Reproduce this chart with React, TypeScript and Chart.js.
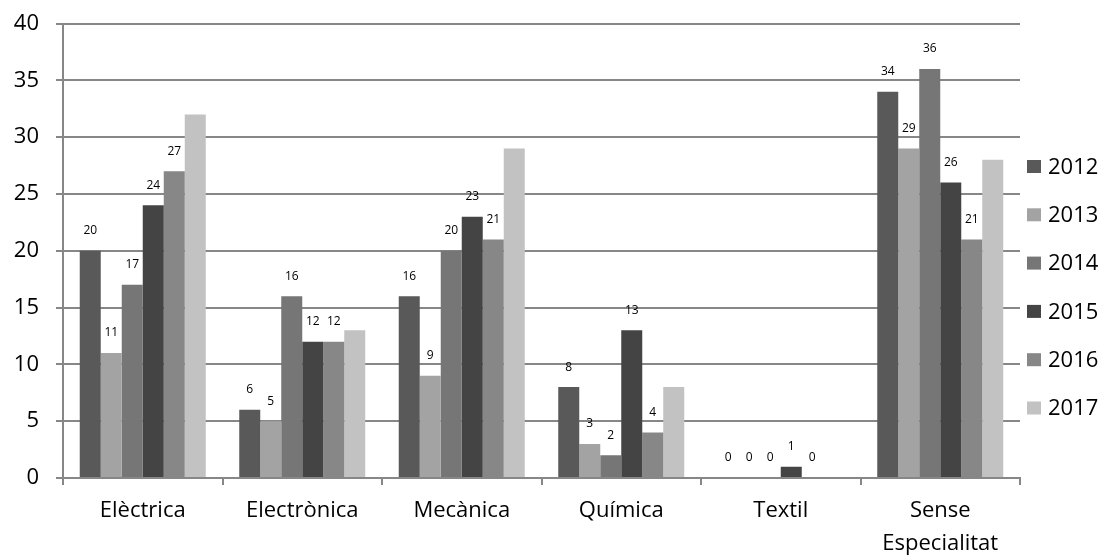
import React, { useEffect, useRef } from "react";
import { Chart, registerables } from "chart.js";

Chart.register(...registerables);

const categories: (string | string[])[] = [
  "Elèctrica",
  "Electrònica",
  "Mecànica",
  "Química",
  "Textil",
  ["Sense", "Especialitat"],
];
const years = ["2012", "2013", "2014", "2015", "2016", "2017"];
const s2012 = [20, 6, 16, 8, 0, 34];
const s2013 = [11, 5, 9, 3, 0, 29];
const s2014 = [17, 16, 20, 2, 0, 36];
const s2015 = [24, 12, 23, 13, 1, 26];
const s2016 = [27, 12, 21, 4, 0, 21];
const s2017 = [32, 13, 29, 8, 0, 28];
const seriesValues = [s2012, s2013, s2014, s2015, s2016, s2017];
const labelledSeries = [true, true, true, true, true, false];
const colors = ["#595959", "#a3a3a3", "#767676", "#444444", "#878787", "#c2c2c2"];
const yTicks = { min: 0, max: 40, step: 5 };

const FONT = "'Open Sans', sans-serif";

const dataLabelPlugin = {
  id: "dataLabels",
  afterDatasetsDraw(chart: any) {
    const ctx = chart.ctx;
    ctx.save();
    ctx.font = `12px ${FONT}`;
    ctx.fillStyle = "#000";
    ctx.textAlign = "center";
    ctx.textBaseline = "middle";
    chart.data.datasets.forEach((ds: any, i: number) => {
      if (!labelledSeries[i]) return;
      const meta = chart.getDatasetMeta(i);
      meta.data.forEach((bar: any, j: number) => {
        ctx.fillText(String(ds.data[j]), bar.x, bar.y - 20);
      });
    });
    ctx.restore();
  },
};

const legendPlugin = {
  id: "sideLegend",
  afterDraw(chart: any) {
    const ctx = chart.ctx;
    ctx.save();
    ctx.font = `22px ${FONT}`;
    ctx.textAlign = "left";
    ctx.textBaseline = "middle";
    chart.data.datasets.forEach((ds: any, i: number) => {
      const cy = 166.5 + i * 48.3;
      ctx.fillStyle = ds.backgroundColor;
      ctx.fillRect(1027, cy - 6.5, 14, 13);
      ctx.fillStyle = "#000";
      ctx.fillText(ds.label, 1048, cy + 1);
    });
    ctx.restore();
  },
};

export default function App() {
  const ref = useRef<HTMLCanvasElement | null>(null);
  useEffect(() => {
    document.body.style.margin = "0";
    if (!ref.current) return;
    const chart = new Chart(ref.current, {
      type: "bar",
      data: {
        labels: categories,
        datasets: years.map((y, i) => ({
          label: y,
          data: seriesValues[i],
          backgroundColor: colors[i],
          borderWidth: 0,
          categoryPercentage: 0.79,
          barPercentage: 1.0,
        })),
      },
      plugins: [dataLabelPlugin, legendPlugin],
      options: {
        responsive: false,
        animation: false,
        layout: { padding: { top: 23.5, right: 84, left: 0, bottom: 0 } },
        plugins: {
          legend: { display: false },
          tooltip: { enabled: false },
        },
        scales: {
          x: {
            grid: {
              offset: true,
              drawOnChartArea: false,
              drawTicks: true,
              tickLength: 7,
              color: "#878787",
              lineWidth: 2,
            },
            border: { color: "#878787", width: 2 },
            ticks: {
              color: "#000",
              font: { family: FONT, size: 22, lineHeight: 1.5 },
              padding: 9,
              maxRotation: 0,
              autoSkip: false,
            },
            afterFit(scale: any) {
              scale.height = 78;
            },
          },
          y: {
            min: yTicks.min,
            max: yTicks.max,
            ticks: {
              stepSize: yTicks.step,
              color: "#000",
              font: { family: FONT, size: 22 },
              padding: 17,
            },
            grid: {
              color: "#878787",
              lineWidth: 2,
              tickLength: 7,
            },
            border: { color: "#878787", width: 2 },
            afterFit(scale: any) {
              scale.width = 63;
              scale.paddingTop = 0;
              scale.paddingBottom = 0;
            },
          },
        },
      },
    });
    return () => chart.destroy();
  }, []);
  return (
    <div style={{ position: "absolute", left: 0, top: 0, width: 1104, height: 556, background: "#fff" }}>
      <canvas ref={ref} width={1104} height={556} />
    </div>
  );
}
